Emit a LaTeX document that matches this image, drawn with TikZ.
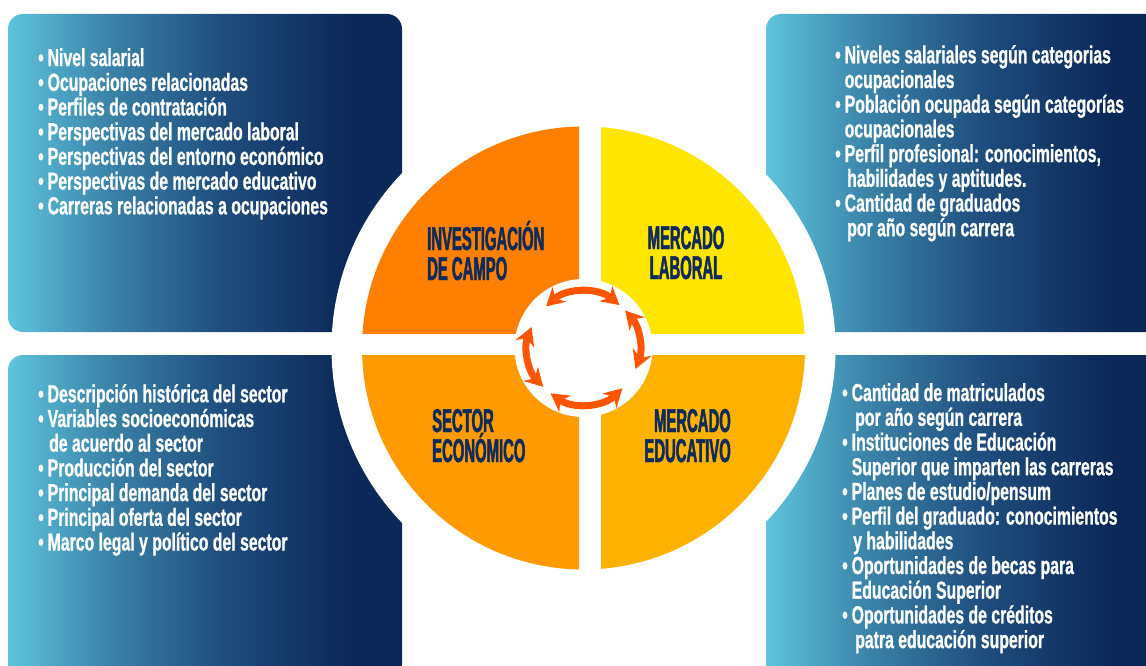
\documentclass[tikz,border=0pt]{standalone}
\usepackage{fontspec}
\setmainfont{Liberation Sans}
\newfontfamily\boxfont{Liberation Sans}[FakeStretch=0.64, FakeBold=0.8]
\newfontfamily\labfont{Liberation Sans}[FakeStretch=0.45, FakeBold=1.4]
\usetikzlibrary{positioning,arrows.meta}

\definecolor{boxlight}{HTML}{5EC4DC}
\definecolor{boxmid}{HTML}{3A82A8}
\definecolor{boxdeep}{HTML}{1F4E7E}
\definecolor{boxdark}{HTML}{0B2858}
\definecolor{qtl}{HTML}{FF7F00}
\definecolor{qtr}{HTML}{FFE500}
\definecolor{qbl}{HTML}{FF9A00}
\definecolor{qbr}{HTML}{FFB100}
\definecolor{labnavy}{HTML}{0F2B5B}
\definecolor{arrowred}{HTML}{FF5500}

\pgfdeclarehorizontalshading{boxgrad}{100bp}{color(0bp)=(boxlight); color(25bp)=(boxlight); color(38bp)=(boxmid); color(52bp)=(boxdeep); color(68bp)=(boxdark); color(100bp)=(boxdark)}

\newcommand\itemdot{\makebox[9.5pt][l]{\textbullet}}
\newcommand\itemgap[1][9.5pt]{\hspace*{#1}}

\tikzset{
  panel/.style={shading=boxgrad, rounded corners=15pt},
  itemtext/.style={font=\boxfont\bfseries\fontsize{24.7}{24.7}\selectfont, text=white, align=left, inner sep=0pt, anchor=north west},
  quadlab/.style={font=\labfont\bfseries\fontsize{33}{30}\selectfont, text=labnavy, inner sep=0pt},
  cyc/.style={draw=arrowred, line width=7pt, {Stealth[length=18pt,width=20pt,inset=6pt]}-{Stealth[length=18pt,width=20pt,inset=6pt]}},
}

\begin{document}
\begin{tikzpicture}[x=1pt, y=-1pt]
  \useasboundingbox (0,0) rectangle (1146,666);
  \coordinate (c) at (583.5,348);

  % panels
  \shade[panel] (8,14) rectangle (402,332);
  \shade[panel] (8,355) rectangle (402,680);
  \shade[panel] (766,14) rectangle (1165,332);
  \shade[panel] (766,355) rectangle (1165,680);

  % wheel
  \fill[white] (c) circle (252);
  \foreach \col/\xa/\ya/\xb/\yb in {qtl/300/100/579/333, qtr/601/100/850/333, qbl/300/355/579/600, qbr/601/355/850/600}{
    \begin{scope}
      \clip (\xa,\ya) rectangle (\xb,\yb);
      \fill[\col] (c) circle (221.5);
    \end{scope}
  }
  \fill[white] (c) circle (69);

  % cycle arrows
  \draw[cyc] (c) ++(-50:56) arc[start angle=-50, end angle=-132, radius=56];
  \draw[cyc] (c) ++(-158:56) arc[start angle=-158, end angle=-224, radius=56];
  \draw[cyc] (c) ++(-234:56) arc[start angle=-234, end angle=-314, radius=56];
  \draw[cyc] (c) ++(22:56) arc[start angle=22, end angle=-42, radius=56];

  % quadrant labels
  \node[quadlab, anchor=base west] (q1) at (427,250) {INVESTIGACIÓN};
  \node[quadlab, anchor=base west, yshift=-30pt] (q1b) at (q1.base west) {DE CAMPO};
  \node[quadlab, anchor=base] (q2) at (686,249) {MERCADO};
  \node[quadlab, anchor=base, yshift=-30pt] (q2b) at (q2.base) {LABORAL};
  \node[quadlab, anchor=base west] (q3) at (432,432) {SECTOR};
  \node[quadlab, anchor=base west, yshift=-30pt] (q3b) at (q3.base west) {ECONÓMICO};
  \node[quadlab, anchor=base east] (q4) at (731,432) {MERCADO};
  \node[quadlab, anchor=base east, yshift=-30pt] (q4b) at (q4.base east) {EDUCATIVO};

  % panel texts
  \node[itemtext] (t1) at (38,48) {\itemdot Nivel salarial\\
    \itemdot Ocupaciones relacionadas\\
    \itemdot Perfiles de contratación\\
    \itemdot Perspectivas del mercado laboral\\
    \itemdot Perspectivas del entorno económico\\
    \itemdot Perspectivas de mercado educativo\\
    \itemdot Carreras relacionadas a ocupaciones};
  \node[itemtext] (t2) at (835,45) {\itemdot Niveles salariales según categorias\\
    \itemgap ocupacionales\\
    \itemdot Población ocupada según categorías\\
    \itemgap ocupacionales\\
    \itemdot Perfil profesional: conocimientos,\\
    \itemgap[12pt]habilidades y aptitudes.\\
    \itemdot Cantidad de graduados\\
    \itemgap[12pt]por año según carrera};
  \node[itemtext] (t3) at (38,384) {\itemdot Descripción histórica del sector\\
    \itemdot Variables socioeconómicas\\
    \itemgap[11pt]de acuerdo al sector\\
    \itemdot Producción del sector\\
    \itemdot Principal demanda del sector\\
    \itemdot Principal oferta del sector\\
    \itemdot Marco legal y político del sector};
  \node[itemtext] (t4) at (842,383) {\itemdot Cantidad de matriculados\\
    \itemgap[13pt]por año según carrera\\
    \itemdot Instituciones de Educación\\
    \itemgap Superior que imparten las carreras\\
    \itemdot Planes de estudio/pensum\\
    \itemdot Perfil del graduado: conocimientos\\
    \itemgap[11pt]y habilidades\\
    \itemdot Oportunidades de becas para\\
    \itemgap Educación Superior\\
    \itemdot Oportunidades de créditos\\
    \itemgap[13pt]patra educación superior};
\end{tikzpicture}
\end{document}
